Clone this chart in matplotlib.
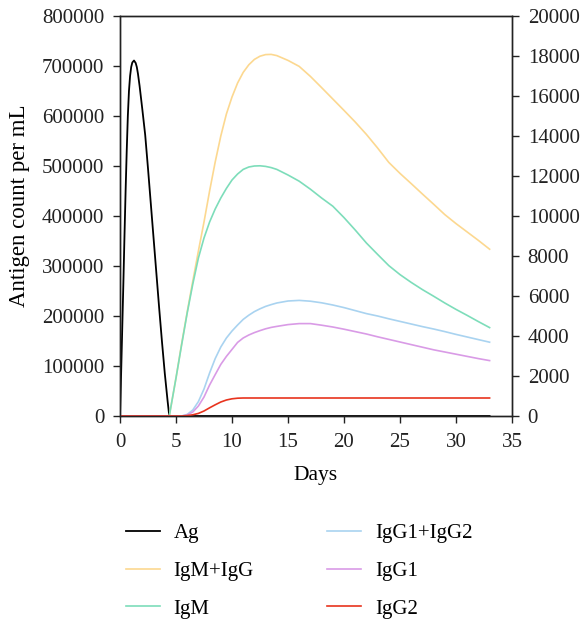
import matplotlib
matplotlib.use("Agg")
import matplotlib.pyplot as plt

plt.rcParams['font.family'] = ['Liberation Serif', 'DejaVu Serif']

# Antigen (left axis)
days_ag = [0, 0.1, 0.2, 0.3, 0.4, 0.5, 0.6, 0.7, 0.8, 0.9, 1.0, 1.1, 1.25, 1.4, 1.5,
           1.6, 1.75, 2.0, 2.25, 2.5, 2.75, 3.0, 3.25, 3.5, 3.75, 4.0, 4.25, 4.4,
           5, 10, 15, 20, 25, 30, 33]
ag = [0, 85000, 175000, 265000, 360000, 450000, 530000, 600000, 650000, 680000,
      698000, 707000, 711000, 706000, 698000, 685000, 660000, 612000, 562000,
      495000, 425000, 355000, 285000, 215000, 148000, 85000, 30000, 0,
      0, 0, 0, 0, 0, 0, 0]

# Antibodies (right axis)
days = [0, 4.4, 5, 5.5, 6, 6.5, 7, 7.5, 8, 8.5, 9, 9.5, 10, 10.5, 11, 11.5, 12,
        12.5, 13, 13.5, 14, 15, 16, 17, 18, 19, 20, 21, 22, 23, 24, 25, 26, 27,
        28, 29, 30, 31, 32, 33]
igm_igg = [0, 0, 1900, 3600, 5200, 6750, 8250, 9700, 11250, 12700, 14000, 15100,
           15950, 16650, 17180, 17560, 17830, 17990, 18070, 18080, 18020, 17780,
           17480, 16980, 16420, 15850, 15280, 14700, 14080, 13400, 12680, 12130,
           11620, 11100, 10590, 10070, 9620, 9200, 8780, 8340]
igm = [0, 0, 1900, 3550, 5150, 6600, 7900, 8900, 9700, 10350, 10900, 11380,
       11800, 12100, 12330, 12450, 12500, 12510, 12480, 12420, 12330, 12050,
       11740, 11340, 10900, 10490, 9920, 9300, 8650, 8080, 7520, 7070, 6680,
       6320, 5990, 5650, 5330, 5030, 4720, 4420]
igg1_igg2 = [0, 0, 0, 0, 80, 300, 720, 1350, 2150, 2870, 3450, 3900, 4250, 4550,
             4830, 5040, 5220, 5360, 5480, 5570, 5650, 5750, 5780, 5740, 5660,
             5550, 5420, 5270, 5120, 5000, 4860, 4730, 4600, 4470, 4350, 4220,
             4080, 3950, 3820, 3690]
igg1 = [0, 0, 0, 0, 50, 200, 500, 950, 1550, 2070, 2580, 2980, 3330, 3680, 3900,
        4050, 4170, 4270, 4360, 4430, 4480, 4570, 4620, 4620, 4540, 4450, 4340,
        4220, 4100, 3960, 3830, 3700, 3570, 3440, 3310, 3200, 3090, 2980, 2870,
        2770]
igg2 = [0, 0, 0, 0, 20, 60, 130, 250, 410, 560, 700, 800, 860, 890, 900, 900, 900,
        900, 900, 900, 900, 900, 900, 900, 900, 900, 900, 900, 900, 900, 900, 900,
        900, 900, 900, 900, 900, 900, 900, 900]

labels = ['Ag', 'IgM+IgG', 'IgM', 'IgG1+IgG2', 'IgG1', 'IgG2']
colors = ['#000000', '#FCD890', '#7DDDBA', '#A9D3F0', '#D99BE6', '#E8341E']

fig = plt.figure(figsize=(5.8, 6.27), dpi=100)
ax = fig.add_axes([120/580, 1 - 416/627, 392/580, 400/627])
ax2 = ax.twinx()

l0, = ax.plot(days_ag, ag, color=colors[0], lw=1.3)
series = [igm_igg, igm, igg1_igg2, igg1, igg2]
handles = [l0]
for s, c in zip(series, colors[1:]):
    h, = ax2.plot(days, s, color=c, lw=1.2)
    handles.append(h)

ax.set_xlim(0, 35)
ax.set_ylim(0, 800000)
ax2.set_ylim(0, 20000)
ax.set_xticks(range(0, 36, 5))
ax.set_yticks(range(0, 800001, 100000))
ax2.set_yticks(range(0, 20001, 2000))

fs = 15
for a in (ax, ax2):
    a.tick_params(direction='out', length=4.8, width=1, pad=6.5, labelsize=fs,
                  colors='#222222')
    for sp in a.spines.values():
        sp.set_linewidth(1.0)
        sp.set_color('#222222')
ax.tick_params(axis='x', pad=7.5)
ax.set_xlabel('Days', fontsize=fs + 0.5, labelpad=10)
ax.set_ylabel('Antigen count per mL', fontsize=fs + 1.5)
ax.yaxis.set_label_coords(-0.2296, 0.525)

fig.legend(handles, labels, loc='upper left', bbox_to_anchor=(107/580, 1 - 505/627),
           ncol=2, frameon=False, fontsize=fs, handlelength=1.63, handletextpad=0.67,
           columnspacing=3.5, labelspacing=0.87)

fig.savefig('out.png', dpi=100)
